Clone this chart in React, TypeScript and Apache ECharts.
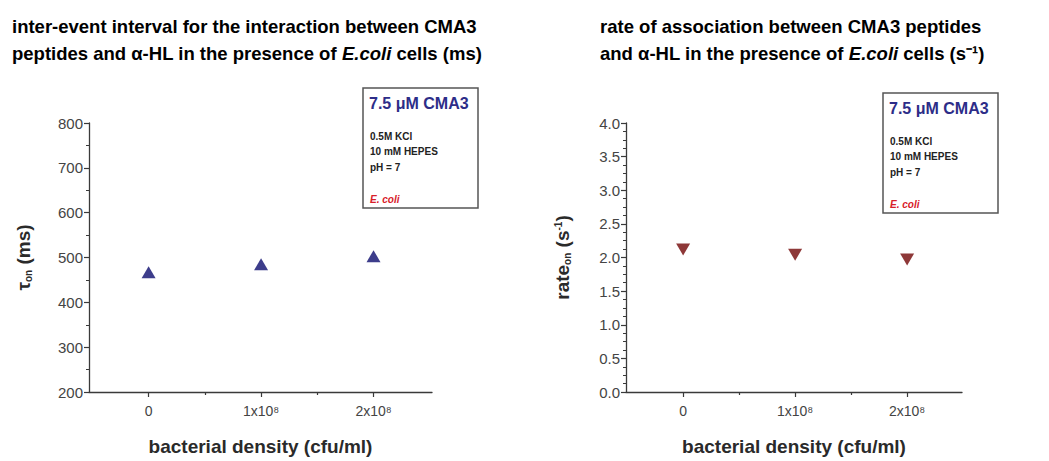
import React, { useEffect, useRef } from "react";
import * as echarts from "echarts";

const densityPositions = [0, 1, 2];
const densityLabels = ["0", "1x10⁸", "2x10⁸"];
const tauOn = [467, 485, 503];
const rateOn = [2.12, 2.04, 1.97];
const tauTicks = { min: 200, max: 800, step: 100 };
const rateTicks = { min: 0, max: 4, step: 0.5 };
const legendLines = ["0.5M KCl", "10 mM HEPES", "pH = 7"];

const FONT = "Liberation Sans, Arial, sans-serif";
const AXIS_COLOR = "#3a3a3a";
const LABEL_COLOR = "#444444";

function xAxes(gridIndex: number, min: number, max: number) {
  return [
    {
      type: "value",
      gridIndex,
      min,
      max,
      position: "bottom",
      splitLine: { show: false },
      axisLine: { show: true, onZero: false, lineStyle: { color: AXIS_COLOR, width: 1.3 } },
      axisTick: {
        show: true,
        inside: false,
        length: 5,
        customValues: densityPositions,
        lineStyle: { color: AXIS_COLOR, width: 1.2 },
      },
      axisLabel: {
        show: true,
        customValues: densityPositions,
        margin: 12,
        color: LABEL_COLOR,
        fontFamily: FONT,
        fontSize: 14,
        formatter: (v: number) => densityLabels[densityPositions.indexOf(Math.round(v))] ?? "",
      },
      name: "bacterial density (cfu/ml)",
      nameLocation: "middle",
      nameGap: 45,
      nameTextStyle: { fontFamily: FONT, fontSize: 19, fontWeight: "bold", color: "#2a2a2a" },
    },
    {
      type: "value",
      gridIndex,
      min,
      max,
      position: "bottom",
      splitLine: { show: false },
      axisLine: { show: false, onZero: false },
      axisTick: {
        show: true,
        inside: false,
        length: 3,
        customValues: [0.5, 1.5],
        lineStyle: { color: AXIS_COLOR, width: 1.2 },
      },
      axisLabel: { show: false },
    },
  ];
}

function yAxis(gridIndex: number, t: { min: number; max: number; step: number }, minorSplit: number, fmt: (v: number) => string, name: string, rich: any, nameGap: number) {
  return {
    type: "value",
    gridIndex,
    min: t.min,
    max: t.max,
    interval: t.step,
    position: "left",
    splitLine: { show: false },
    axisLine: { show: true, onZero: false, lineStyle: { color: AXIS_COLOR, width: 1.3 } },
    axisTick: { show: true, inside: false, length: 5, lineStyle: { color: AXIS_COLOR, width: 1.2 } },
    minorTick: { show: true, splitNumber: minorSplit, length: 3, lineStyle: { color: AXIS_COLOR, width: 1 } },
    minorSplitLine: { show: false },
    axisLabel: { color: LABEL_COLOR, fontFamily: FONT, fontSize: 15, margin: 6, formatter: fmt },
    name,
    nameLocation: "middle",
    nameRotate: 90,
    nameGap,
    nameTextStyle: { fontFamily: FONT, fontSize: 19, fontWeight: "bold", color: "#2a2a2a", rich },
  };
}

function legendBox(x: number, y: number) {
  const children: any[] = [
    {
      type: "rect",
      shape: { x: 0, y: 0, width: 115, height: 120 },
      style: { fill: "#ffffff", stroke: "#555555", lineWidth: 1.5 },
    },
    {
      type: "text",
      x: 6,
      y: 7,
      style: { text: "7.5 μM CMA3", fill: "#2d2d88", font: `bold 16px ${FONT}` },
    },
  ];
  legendLines.forEach((line, i) => {
    children.push({
      type: "text",
      x: 7,
      y: 43 + i * 15.5,
      style: { text: line, fill: "#222222", font: `bold 10px ${FONT}` },
    });
  });
  children.push({
    type: "text",
    x: 7,
    y: 106,
    style: { text: "E. coli", fill: "#d8202a", font: `italic bold 10px ${FONT}` },
  });
  return { type: "group", x, y, children };
}

const titleRich = {
  b: { fontFamily: FONT, fontSize: 18.5, fontWeight: "bold", color: "#222222", lineHeight: 27 },
  i: { fontFamily: FONT, fontSize: 18.5, fontWeight: "bold", fontStyle: "italic", color: "#222222", lineHeight: 27 },
};

export default function App() {
  const ref = useRef<HTMLDivElement>(null);
  useEffect(() => {
    if (!ref.current) return;
    const chart = echarts.init(ref.current, undefined, { renderer: "svg" });
    const nameRich = {
      sub: { fontFamily: FONT, fontSize: 10, fontWeight: "bold", color: "#2a2a2a", verticalAlign: "bottom", padding: [8, 0, 0, 0] },
      sup: { fontFamily: FONT, fontSize: 10, fontWeight: "bold", color: "#2a2a2a", verticalAlign: "top", padding: [0, 0, 8, 0] },
    };
    chart.setOption({
      animation: false,
      backgroundColor: "#ffffff",
      grid: [
        { left: 89, top: 123, width: 343, height: 277 },
        { left: 626, top: 123, width: 336, height: 278 },
      ],
      xAxis: [...xAxes(0, -0.53, 2.52), ...xAxes(1, -0.51, 2.49)],
      yAxis: [
        yAxis(0, tauTicks, 2, (v: number) => String(v), "τ{sub|on} (ms)", nameRich, 56),
        yAxis(1, rateTicks, 4, (v: number) => v.toFixed(1), "rate{sub|on} (s{sup|-1})", nameRich, 54),
      ],
      series: [
        {
          type: "scatter",
          xAxisIndex: 0,
          yAxisIndex: 0,
          symbol: "triangle",
          symbolSize: [14, 12],
          itemStyle: { color: "#0c0c6e" },
          data: densityPositions.map((x, i) => [x, tauOn[i]]),
        },
        {
          type: "scatter",
          xAxisIndex: 2,
          yAxisIndex: 1,
          symbol: "triangle",
          symbolRotate: 180,
          symbolSize: [14, 12],
          itemStyle: { color: "#720606" },
          data: densityPositions.map((x, i) => [x, rateOn[i]]),
        },
      ],
      graphic: [
        {
          type: "text",
          x: 12,
          y: 13,
          style: {
            text: "{b|inter-event interval for the interaction between CMA3}\n{b|peptides and α-HL in the presence of }{i|E.coli}{b| cells (ms)}",
            rich: titleRich,
          },
        },
        {
          type: "text",
          x: 600,
          y: 13,
          style: {
            text: "{b|rate of association between CMA3 peptides}\n{b|and α-HL in the presence of }{i|E.coli}{b| cells (s⁻¹)}",
            rich: titleRich,
          },
        },
        legendBox(363, 88),
        legendBox(883, 93),
      ],
    });
    return () => chart.dispose();
  }, []);
  return (
    <div
      ref={ref}
      style={{ position: "absolute", left: 0, top: 0, width: 1049, height: 461, background: "#fff" }}
    />
  );
}
